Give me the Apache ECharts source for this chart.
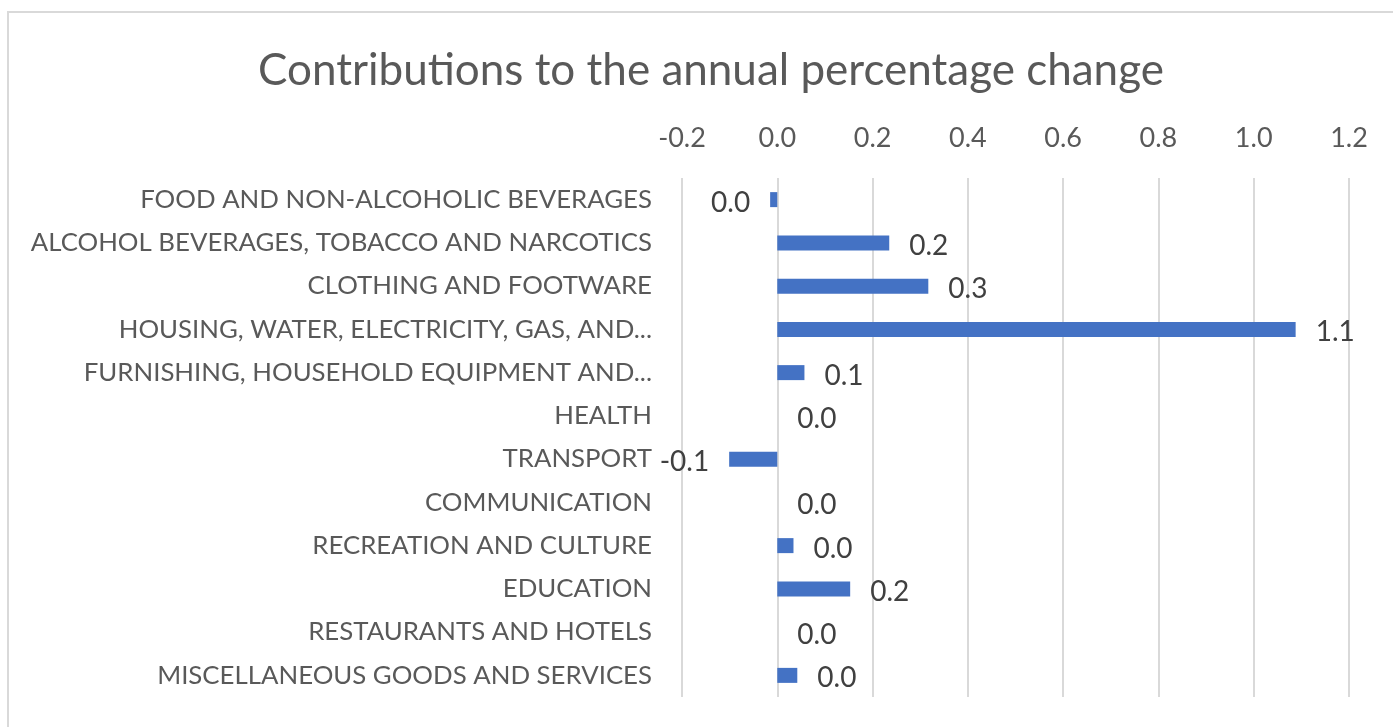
<!DOCTYPE html>
<html>
<head>
<meta charset="utf-8">
<script src="https://cdn.jsdelivr.net/npm/echarts@6/dist/echarts.min.js"></script>
<style>
html,body{margin:0;padding:0;background:#fff;}
#c{width:1393px;height:727px;}
</style>
</head>
<body>
<div id="c"></div>
<script>
const titleText = 'Contributions to the annual percentage change';
const categories = [
  'FOOD AND NON-ALCOHOLIC BEVERAGES',
  'ALCOHOL BEVERAGES, TOBACCO AND NARCOTICS',
  'CLOTHING AND FOOTWARE',
  'HOUSING, WATER, ELECTRICITY, GAS, AND...',
  'FURNISHING, HOUSEHOLD EQUIPMENT AND...',
  'HEALTH',
  'TRANSPORT',
  'COMMUNICATION',
  'RECREATION AND CULTURE',
  'EDUCATION',
  'RESTAURANTS AND HOTELS',
  'MISCELLANEOUS GOODS AND SERVICES'
];
const values = [-0.015, 0.235, 0.317, 1.088, 0.057, 0.0, -0.101, 0.0, 0.034, 0.153, 0.0, 0.042];
const axisMin = -0.2, axisMax = 1.2, axisStep = 0.2;

const FONT = 'Lato';
const chart = echarts.init(document.getElementById('c'));
function fmt(v){ let r = Math.round(v*10)/10; if (Object.is(r,-0)) r = 0; return r.toFixed(1); }

chart.setOption({
  animation:false,
  backgroundColor:'#fff',
  graphic:[{
    type:'rect', silent:true, z:-10,
    shape:{x:8, y:12, width:1400, height:730},
    style:{fill:'#fff', stroke:'#d9d9d9', lineWidth:2}
  }],
  title:{
    text:titleText, left:706, top:44, textAlign:'center',
    textStyle:{fontFamily:FONT, fontSize:44, fontWeight:'normal', color:'#595959'}
  },
  grid:{left:682, right:44, top:178, bottom:30, containLabel:false},
  xAxis:{
    type:'value', position:'top', min:axisMin, max:axisMax, interval:axisStep,
    axisLine:{show:false}, axisTick:{show:false},
    axisLabel:{formatter:v=>v.toFixed(1), fontFamily:FONT, fontSize:27, color:'#595959', margin:26},
    splitLine:{show:true, lineStyle:{color:'#d9d9d9', width:2}}
  },
  yAxis:{
    type:'category', data:categories, inverse:true,
    axisLine:{show:false, onZero:false}, axisTick:{show:false},
    axisLabel:{fontFamily:FONT, fontSize:25.8, color:'#595959', margin:30, padding:[4,0,0,0]}
  },
  series:[{
    type:'bar', barWidth:15,
    itemStyle:{color:'#4472C4'},
    data: values.map(v=>({
      value:v,
      label:{show:true, position: v<0?'left':'right', distance:20,
        formatter:p=>fmt(p.value), fontFamily:FONT, fontSize:28, color:'#404040', offset:[0,3]}
    }))
  }]
});
</script>
</body>
</html>
